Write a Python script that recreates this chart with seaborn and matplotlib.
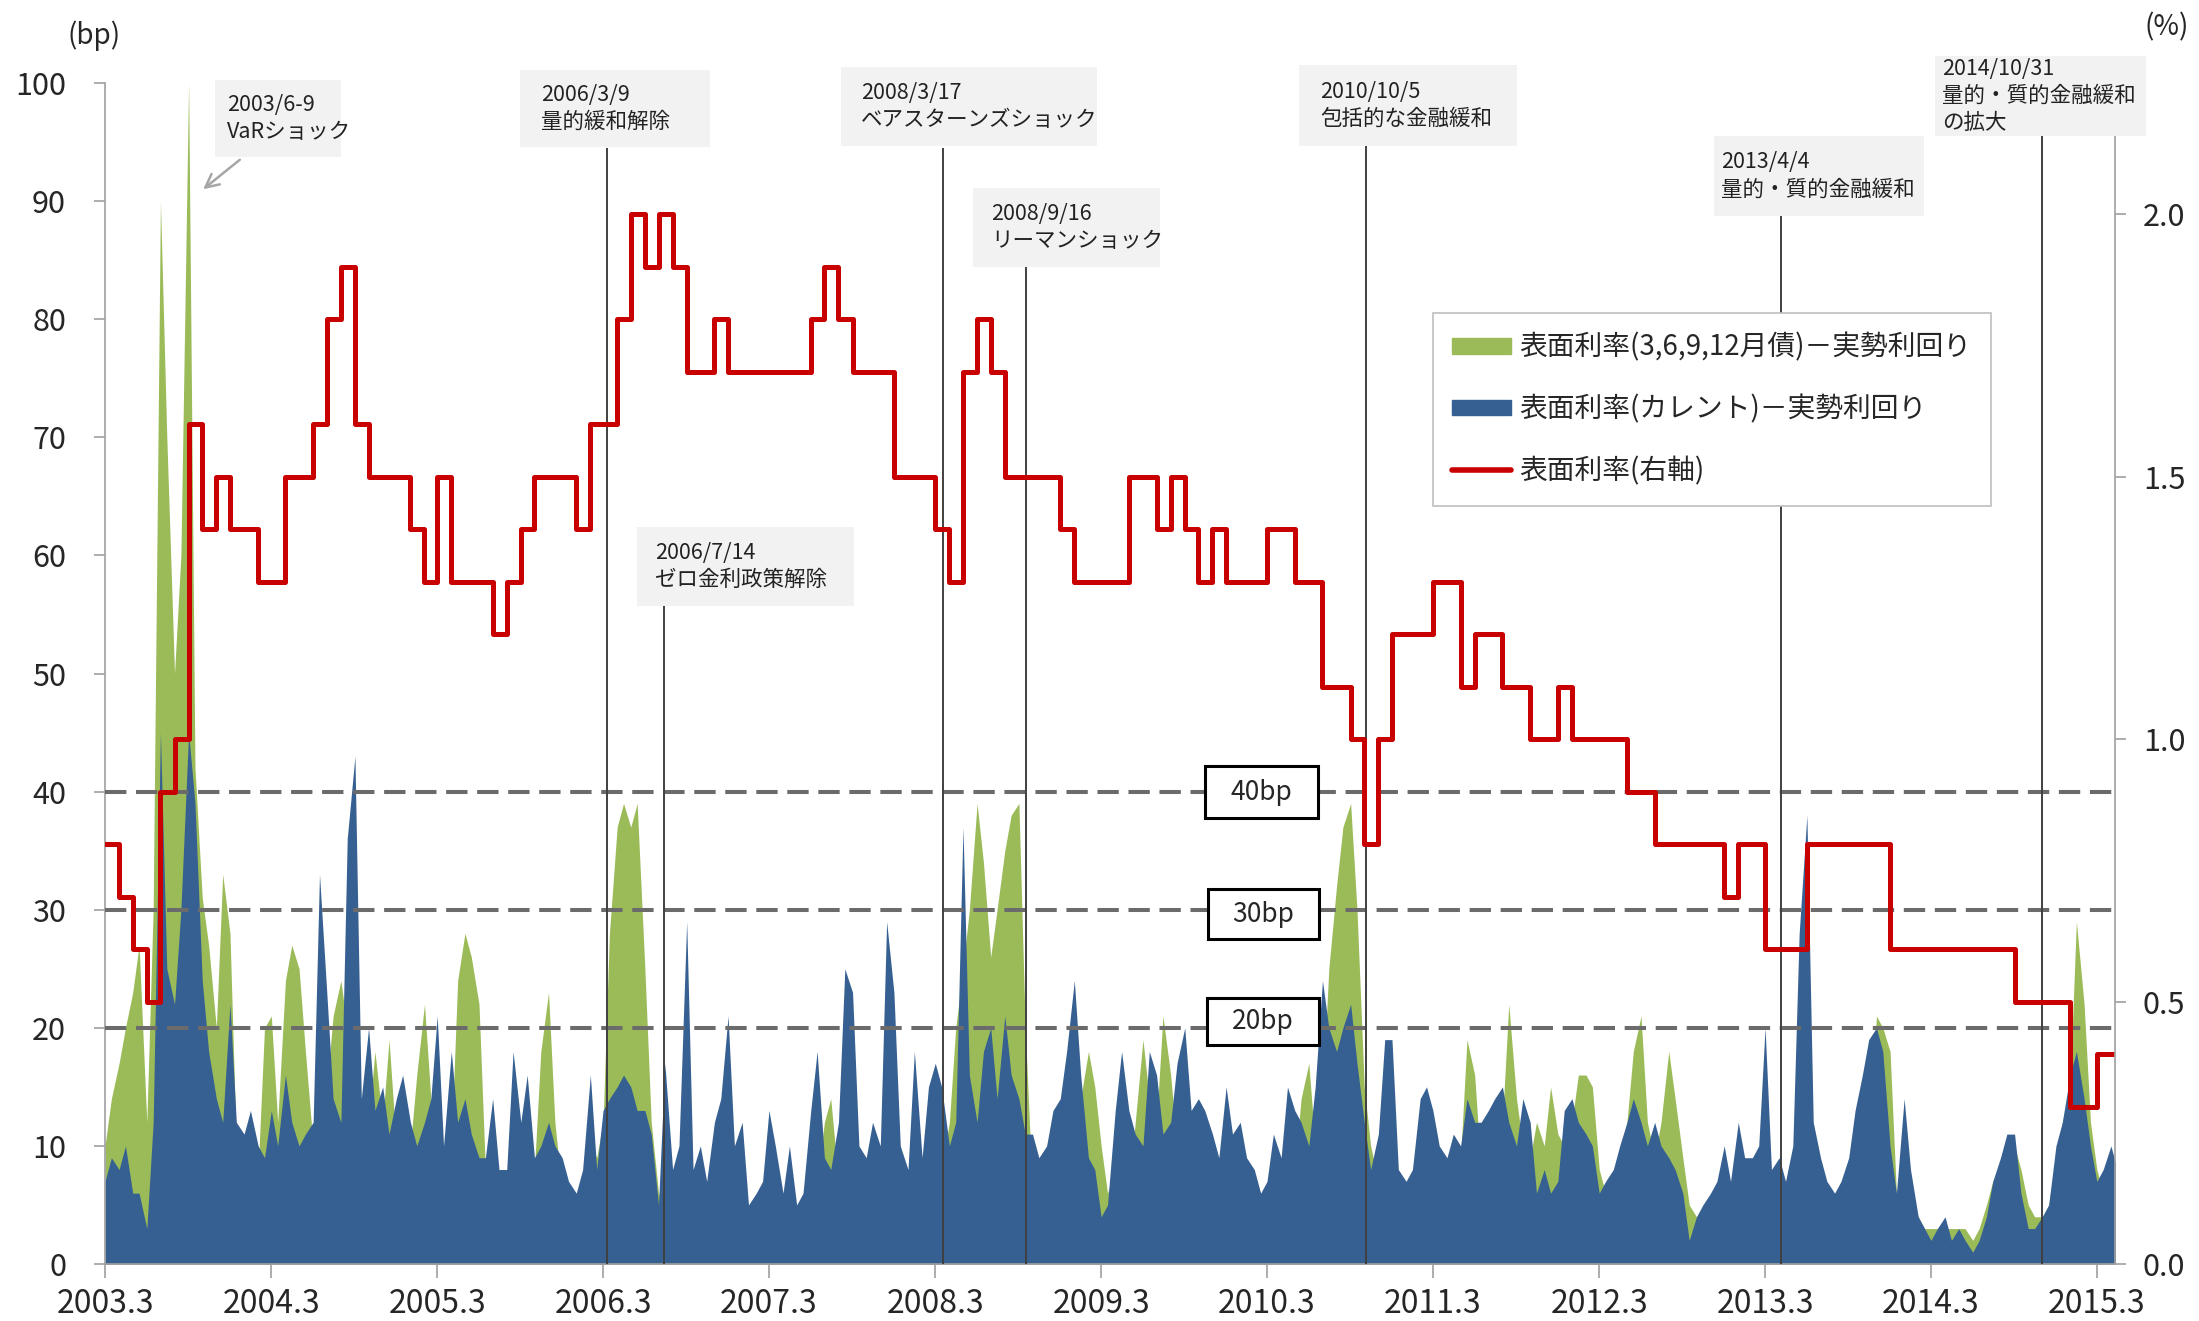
import pandas as pd
import matplotlib
matplotlib.use("Agg")
import matplotlib.pyplot as plt
from matplotlib.patches import Rectangle, Patch
from matplotlib.lines import Line2D
import seaborn as sns

# spread estimates (bp), semi-monthly from 2003-03-01 (1st and 15th of each month)
green_bp = [10, 14, 17, 20, 23, 27, 12, 30, 90, 70,
            50, 60, 100, 42, 31, 27, 20, 33, 28, 10,
            8, 7, 8, 20, 21, 12, 24, 27, 25, 18,
            10, 14, 15, 21, 24, 20, 18, 10, 12, 18,
            12, 19, 10, 12, 10, 16, 22, 14, 10, 8,
            10, 24, 28, 26, 22, 8, 8, 7, 6, 9,
            8, 7, 8, 18, 23, 12, 6, 5, 5, 7,
            10, 9, 12, 28, 37, 39, 37, 39, 25, 12,
            6, 5, 6, 6, 7, 6, 6, 6, 6, 7,
            7, 6, 5, 5, 5, 5, 6, 5, 5, 6,
            5, 5, 6, 7, 12, 14, 7, 7, 6, 6,
            6, 6, 6, 7, 6, 6, 6, 6, 5, 6,
            8, 8, 12, 20, 25, 30, 39, 34, 26, 30,
            35, 38, 39, 20, 6, 5, 6, 6, 6, 6,
            7, 14, 18, 15, 10, 6, 8, 10, 6, 12,
            19, 14, 12, 21, 16, 10, 13, 9, 9, 8,
            7, 6, 7, 6, 6, 6, 6, 6, 6, 6,
            6, 6, 8, 14, 17, 10, 14, 25, 32, 37,
            39, 30, 15, 10, 7, 6, 6, 6, 6, 6,
            6, 6, 6, 6, 6, 7, 9, 19, 16, 8,
            7, 8, 12, 22, 14, 10, 9, 12, 10, 15,
            11, 10, 12, 16, 16, 15, 8, 6, 6, 9,
            12, 18, 21, 12, 9, 12, 18, 14, 9, 5,
            4, 4, 4, 5, 6, 6, 7, 6, 8, 9,
            8, 6, 6, 6, 7, 7, 7, 6, 5, 5,
            5, 5, 5, 5, 6, 8, 21, 20, 18, 6,
            5, 5, 4, 3, 3, 3, 3, 3, 3, 3,
            2, 3, 5, 7, 8, 9, 10, 8, 5, 4,
            4, 5, 9, 12, 15, 29, 22, 12, 8, 6,
            6, 5]

blue_bp = [7, 9, 8, 10, 6, 6, 3, 12, 45, 25,
           22, 30, 45, 39, 24, 18, 14, 12, 22, 12,
           11, 13, 10, 9, 13, 10, 16, 12, 10, 11,
           12, 33, 23, 14, 12, 36, 43, 14, 20, 13,
           15, 11, 14, 16, 12, 10, 12, 14, 21, 10,
           18, 12, 14, 11, 9, 9, 14, 8, 8, 18,
           12, 16, 9, 10, 12, 10, 9, 7, 6, 8,
           16, 8, 13, 14, 15, 16, 15, 13, 13, 11,
           5, 17, 8, 10, 29, 8, 10, 7, 12, 14,
           21, 10, 12, 5, 6, 7, 13, 10, 6, 10,
           5, 6, 13, 18, 9, 8, 12, 25, 23, 10,
           9, 12, 10, 29, 23, 10, 8, 18, 9, 15,
           17, 15, 10, 12, 37, 16, 12, 18, 20, 14,
           21, 16, 14, 11, 11, 9, 10, 13, 14, 18,
           24, 16, 9, 8, 4, 5, 13, 18, 13, 11,
           10, 18, 16, 11, 12, 17, 20, 13, 14, 13,
           11, 9, 15, 11, 12, 9, 8, 6, 7, 11,
           9, 15, 13, 12, 10, 15, 24, 20, 18, 20,
           22, 17, 12, 8, 11, 19, 19, 8, 7, 8,
           14, 15, 13, 10, 9, 11, 10, 14, 12, 12,
           13, 14, 15, 12, 10, 14, 12, 6, 8, 6,
           7, 13, 14, 12, 11, 10, 6, 7, 8, 10,
           12, 14, 12, 10, 12, 10, 9, 8, 6, 2,
           4, 5, 6, 7, 10, 7, 12, 9, 9, 10,
           20, 8, 9, 7, 10, 28, 38, 12, 9, 7,
           6, 7, 9, 13, 16, 19, 20, 18, 10, 6,
           14, 8, 4, 3, 2, 3, 4, 2, 3, 2,
           1, 2, 4, 7, 9, 11, 11, 6, 3, 3,
           4, 5, 10, 12, 16, 18, 14, 10, 7, 8,
           10, 8]

# 10-year coupon rate (%), monthly from 2003-03
coupon_pct = [0.8, 0.7, 0.6, 0.5, 0.9, 1.0, 1.6, 1.4, 1.5, 1.4,
              1.4, 1.3, 1.3, 1.5, 1.5, 1.6, 1.8, 1.9, 1.6, 1.5,
              1.5, 1.5, 1.4, 1.3, 1.5, 1.3, 1.3, 1.3, 1.2, 1.3,
              1.4, 1.5, 1.5, 1.5, 1.4, 1.6, 1.6, 1.8, 2.0, 1.9,
              2.0, 1.9, 1.7, 1.7, 1.8, 1.7, 1.7, 1.7, 1.7, 1.7,
              1.7, 1.8, 1.9, 1.8, 1.7, 1.7, 1.7, 1.5, 1.5, 1.5,
              1.4, 1.3, 1.7, 1.8, 1.7, 1.5, 1.5, 1.5, 1.5, 1.4,
              1.3, 1.3, 1.3, 1.3, 1.5, 1.5, 1.4, 1.5, 1.4, 1.3,
              1.4, 1.3, 1.3, 1.3, 1.4, 1.4, 1.3, 1.3, 1.1, 1.1,
              1.0, 0.8, 1.0, 1.2, 1.2, 1.2, 1.3, 1.3, 1.1, 1.2,
              1.2, 1.1, 1.1, 1.0, 1.0, 1.1, 1.0, 1.0, 1.0, 1.0,
              0.9, 0.9, 0.8, 0.8, 0.8, 0.8, 0.8, 0.7, 0.8, 0.8,
              0.6, 0.6, 0.6, 0.8, 0.8, 0.8, 0.8, 0.8, 0.8, 0.6,
              0.6, 0.6, 0.6, 0.6, 0.6, 0.6, 0.6, 0.6, 0.5, 0.5,
              0.5, 0.5, 0.3, 0.3, 0.4, 0.4]

event_dates = ["2006-03-09", "2006-07-14", "2008-03-17", "2008-09-16",
               "2010-10-05", "2013-04-04", "2014-10-31"]
event_line_top_bp = [94.5, 55.7, 94.5, 84.4, 94.7, 88.7, 95.5]
event_labels = ["2006/3/9\n量的緩和解除",
                "2006/7/14\nゼロ金利政策解除",
                "2008/3/17\nベアスターンズショック",
                "2008/9/16\nリーマンショック",
                "2010/10/5\n包括的な金融緩和",
                "2013/4/4\n量的・質的金融緩和",
                "2014/10/31\n量的・質的金融緩和\nの拡大"]
threshold_bp = [40, 30, 20]
year_ticks = list(range(2003, 2016))

GREEN = "#9bbb59"
BLUE = "#376092"
RED = "#c80000"

W, H = 2199, 1321


def fx(px):
    return px / W


def fy(py):
    return 1 - py / H


sns.set_theme(style="white")
plt.rcParams["font.family"] = ["Noto Sans CJK JP", "DejaVu Sans"]

fig = plt.figure(figsize=(W / 100, H / 100), dpi=100)
ax = fig.add_axes([fx(105), fy(1264), fx(2115) - fx(105), fy(83) - fy(1264)])

dates = pd.date_range("2003-03-01", periods=len(green_bp), freq="SMS")
ax.fill_between(dates, 0, green_bp, color=GREEN, lw=0, zorder=1)
ax.fill_between(dates, 0, blue_bp, color=BLUE, lw=0, zorder=2)

x_end = pd.Timestamp("2015-04-10")
ax.set_xlim(pd.Timestamp("2003-03-01"), x_end)
ax.set_ylim(0, 100)
ax.set_yticks(range(0, 101, 10))
ax.set_xticks([pd.Timestamp(f"{y}-03-01") for y in year_ticks])
ax.set_xticklabels([f"{y}.3" for y in year_ticks])

for y in threshold_bp:
    ax.axhline(y, color="#6b6b6b", lw=2.9, dashes=(5.3, 2.4), zorder=3)

ax.vlines(pd.to_datetime(event_dates), 0, event_line_top_bp,
          colors="#404040", lw=1.4, zorder=4)

for s in ["top", "right"]:
    ax.spines[s].set_visible(False)
for s in ["left", "bottom"]:
    ax.spines[s].set_color("#a0a0a0")
    ax.spines[s].set_linewidth(1.2)
ax.tick_params(axis="y", direction="out", length=8, width=1.2, color="#a0a0a0",
               labelsize=22, pad=20, left=True)
ax.tick_params(axis="x", direction="out", length=10, width=1.2, color="#a0a0a0",
               labelsize=23, pad=7, bottom=True)

# coupon rate on the right axis
ax2 = ax.twinx()
cp_dates = list(pd.date_range("2003-03-01", periods=len(coupon_pct), freq="MS")) + [x_end]
cp_vals = coupon_pct + [coupon_pct[-1]]
df_cp = pd.DataFrame({"date": cp_dates, "rate": cp_vals})
sns.lineplot(data=df_cp, x="date", y="rate", ax=ax2, color=RED, lw=3.6,
             drawstyle="steps-post", legend=False)
ax2.set_xlim(pd.Timestamp("2003-03-01"), x_end)
ax2.set_ylim(0, 2.25)
ax2.set_yticks([0, 0.5, 1.0, 1.5, 2.0])
ax2.set_yticklabels(["0.0", "0.5", "1.0", "1.5", "2.0"])
ax2.set_xlabel("")
ax2.set_ylabel("")
for s in ["top", "left", "bottom"]:
    ax2.spines[s].set_visible(False)
ax2.spines["right"].set_color("#a0a0a0")
ax2.spines["right"].set_linewidth(1.2)
ax2.tick_params(axis="y", direction="out", length=8, width=1.2, color="#a0a0a0",
                labelsize=22, pad=12, right=True)

# axis unit labels
fig.text(fx(94), fy(36), "(bp)", ha="center", va="center", fontsize=20)
fig.text(fx(2167), fy(27), "(%)", ha="center", va="center", fontsize=20)

# event annotation boxes (x0, x1, y0, y1, text left) in pixels
ann_boxes = [(215, 341, 80, 157, 227), (520, 710, 70, 147, 541),
             (637, 854, 527, 606, 655), (841, 1097, 67, 146, 861),
             (973, 1160, 188, 267, 991), (1299, 1517, 65, 146, 1320),
             (1714, 1924, 136, 216, 1721), (1935, 2146, 56, 136, 1942)]
ann_texts = ["2003/6-9\nVaRショック"] + event_labels
for (x0, x1, y0, y1, tx), txt in zip(ann_boxes, ann_texts):
    fig.patches.append(Rectangle((fx(x0), fy(y1)), fx(x1) - fx(x0), fy(y0) - fy(y1),
                                 transform=fig.transFigure, fc="#f2f2f2", ec="none",
                                 zorder=5))
    fig.text(fx(tx), fy((y0 + y1) / 2), txt, ha="left", va="center",
             fontsize=15.5, linespacing=1.3, color="#222222", zorder=6)

ax.annotate("", xy=(fx(201), fy(191)), xytext=(fx(242), fy(158)),
            xycoords="figure fraction", textcoords="figure fraction",
            arrowprops=dict(arrowstyle="->", color="#a6a6a6", lw=1.8,
                            mutation_scale=24))

# threshold labels
bp_boxes = [(1205, 1318, 766, 818), (1208, 1319, 889, 939), (1207, 1319, 998, 1045)]
for (x0, x1, y0, y1), v in zip(bp_boxes, threshold_bp):
    fig.patches.append(Rectangle((fx(x0), fy(y1)), fx(x1) - fx(x0), fy(y0) - fy(y1),
                                 transform=fig.transFigure, fc="white", ec="black",
                                 lw=2.2, zorder=5))
    fig.text(fx((x0 + x1) / 2), fy((y0 + y1) / 2), f"{v}bp", ha="center",
             va="center", fontsize=19, zorder=6)

handles = [Patch(color=GREEN), Patch(color=BLUE), Line2D([], [], color=RED, lw=4)]
labels = ["表面利率(3,6,9,12月債)－実勢利回り", "表面利率(カレント)－実勢利回り", "表面利率(右軸)"]
leg = ax2.legend(handles, labels, loc="upper left",
                 bbox_to_anchor=(fx(1433), fy(313)), bbox_transform=fig.transFigure,
                 fontsize=20, frameon=True, fancybox=False, edgecolor="#bfbfbf",
                 framealpha=1, borderpad=0.7, labelspacing=1.15, handlelength=2.1,
                 handleheight=0.5, handletextpad=0.3, borderaxespad=0)
leg.get_frame().set_linewidth(1.2)

fig.savefig("out.png", dpi=100)
